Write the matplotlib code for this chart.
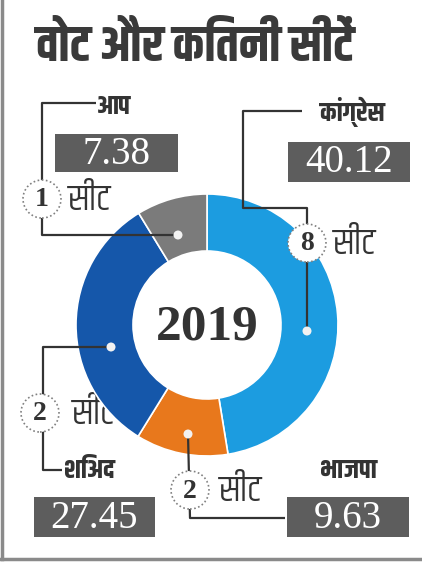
import matplotlib
matplotlib.use("Agg")
import matplotlib.pyplot as plt
from matplotlib.patches import Rectangle, Circle

# ---- data ----
parties = ["कांग्रेस", "भाजपा", "शिअद", "आप"]
vote_share = [40.12, 9.63, 27.45, 7.38]
seats = [8, 2, 2, 1]
colors = ["#1c9ce0", "#e8781c", "#1557aa", "#7b7b7b"]
title = "वोट और कितनी सीटें"
year = "2019"
seat_word = "सीट"

HINDI = ['Khand', 'Teko', 'Noto Sans Devanagari', 'Mukta', 'FreeSans', 'DejaVu Sans']
SERIF = ['Liberation Serif', 'DejaVu Serif']
W, H = 422, 563
DARK = "#333333"
BOX = "#5d5d5d"

fig = plt.figure(figsize=(W / 100, H / 100), dpi=100)
ax = fig.add_axes([0, 0, 1, 1])
ax.set_xlim(0, W)
ax.set_ylim(0, H)
ax.set_aspect('equal')
ax.axis('off')

def Y(p):
    return H - p

# donut
cx, cy, R, r_in = 207, 325, 131, 74
ax.pie(vote_share, colors=colors, startangle=90, counterclock=False,
       center=(cx, Y(cy)), radius=R, frame=True,
       wedgeprops=dict(width=R - r_in, edgecolor='white', linewidth=1.2, zorder=3))
ax.set_xlim(0, W)
ax.set_ylim(0, H)
ax.axis('off')
ax.add_patch(Circle((cx, Y(cy)), r_in, facecolor='white', edgecolor='none', zorder=4))
ax.text(cx, Y(cy + 2), year, ha='center', va='center', fontsize=37, fontweight='bold',
        family=SERIF, color=DARK, zorder=6)

# title
ax.text(36, Y(45), title, ha='left', va='center', fontsize=36, fontweight='bold',
        family=HINDI, color="#3a3a3a")

# layout for each party: label pos, box, seat circle, dot, leader path (pixel coords)
layout = {
    "आप": dict(label=(97, 106), box=(55, 134, 123, 38), circ=(42, 199), seat_txt=(68, 199),
               dot=(178, 235), path=[(96, 103), (42, 103), (42, 235), (178, 235)]),
    "कांग्रेस": dict(label=(320, 112), box=(288, 142, 122, 40), circ=(307, 243), seat_txt=(333, 243),
                   dot=(307, 331), path=[(302, 111), (243, 111), (243, 208), (307, 208), (307, 331)]),
    "शिअद": dict(label=(64, 470), box=(34, 497, 121, 40), circ=(40, 413), seat_txt=(72, 413),
                dot=(111, 347), path=[(111, 347), (43, 347), (43, 470), (62, 470)]),
    "भाजपा": dict(label=(320, 470), box=(287, 497, 122, 40), circ=(190, 490), seat_txt=(219, 490),
                 dot=(188, 434), path=[(188, 434), (190, 518), (285, 518)]),
}

for name, val, s in zip(parties, vote_share, seats):
    L = layout[name]
    xs = [p[0] for p in L['path']]
    ys = [Y(p[1]) for p in L['path']]
    ax.plot(xs, ys, color=DARK, lw=1.6, zorder=5, solid_capstyle='butt')
    ax.add_patch(Circle((L['dot'][0], Y(L['dot'][1])), 4.5, facecolor='#f2f2f2',
                        edgecolor='none', zorder=6))
    # seat circle
    ccx, ccy = L['circ']
    ax.add_patch(Circle((ccx, Y(ccy)), 19, facecolor='white', edgecolor='#808080',
                        linestyle=(0, (1, 1.5)), lw=1.2, zorder=7))
    ax.text(ccx, Y(ccy + 1), str(s), ha='center', va='center', fontsize=20,
            fontweight='bold', family=SERIF, color=DARK, zorder=8)
    ax.text(L['seat_txt'][0], Y(L['seat_txt'][1]), seat_word, ha='left', va='center',
            fontsize=26, family=HINDI, color=DARK, zorder=1)
    # party label
    ax.text(L['label'][0], Y(L['label'][1]), name, ha='left', va='center', fontsize=19,
            fontweight='bold', family=HINDI, color=DARK, zorder=5)
    # value box
    bx, by, bw, bh = L['box']
    ax.add_patch(Rectangle((bx, Y(by + bh)), bw, bh, facecolor=BOX, edgecolor='none', zorder=5))
    ax.text(bx + bw / 2, Y(by + bh / 2 + 1), f"{val:.2f}", ha='center', va='center',
            fontsize=28, family=SERIF, color='white', zorder=6)

# frame lines of the clipping
ax.plot([2, 2], [Y(0), Y(559)], color='#8a8a8a', lw=2.5, zorder=9)
ax.plot([0, W], [Y(559), Y(559)], color='#8a8a8a', lw=2.5, zorder=9)

fig.savefig("out.png", dpi=100, facecolor='white')
